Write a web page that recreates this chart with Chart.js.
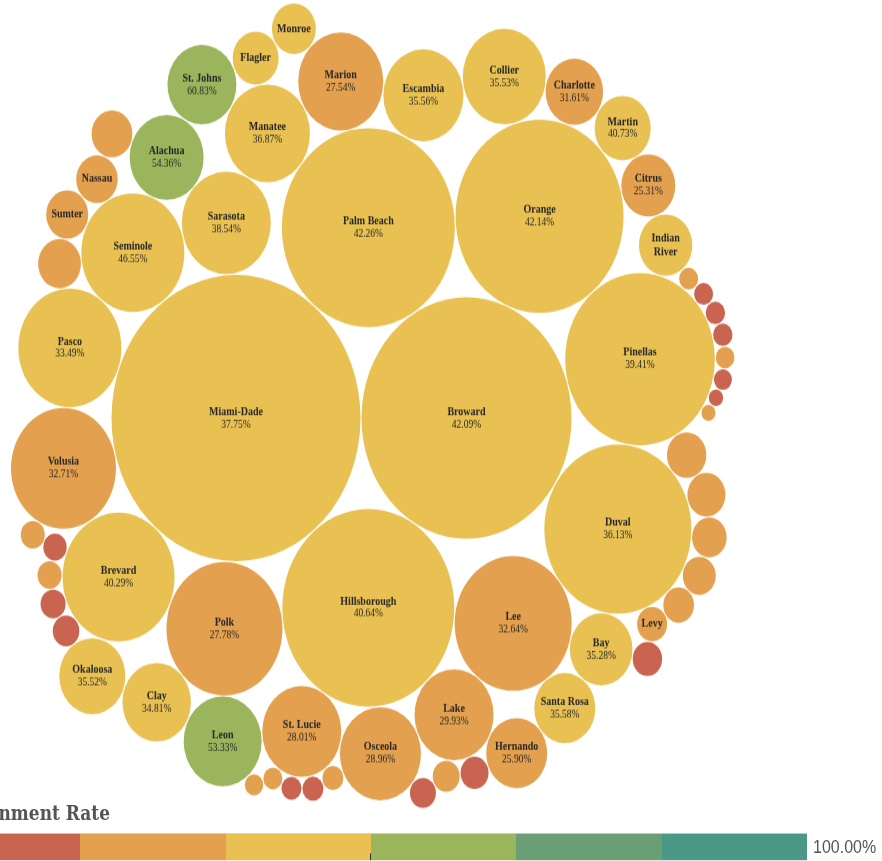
<!DOCTYPE html>
<html>
<head>
<meta charset="utf-8">
<script src="https://cdn.jsdelivr.net/npm/chart.js@4.4.1/dist/chart.umd.min.js"></script>
<style>
  html, body { margin:0; padding:0; background:#fff; overflow:hidden; width:882px; height:861px; }
  #stage { position:absolute; left:0; top:0; width:882px; height:749px; transform:scaleY(1.15); transform-origin:0 0; }
  #chartBox { position:absolute; left:0; top:0; width:882px; height:705px; }
  #title { position:absolute; right:772px; top:697px; font:bold 17px "DejaVu Serif", serif; line-height:20px; color:#555; white-space:nowrap; }
  #bar { position:absolute; left:-65px; top:724px; width:872px; height:23px; display:flex; border-top:1px solid #cfcfcf; }
  #bar div { flex:1; height:100%; }
  #tick { position:absolute; left:370px; top:742px; width:1px; height:6px; background:#333; }
  #maxLbl { position:absolute; left:813px; top:728px; font:16px "Liberation Sans", Arial, sans-serif; line-height:18px; color:#555; white-space:nowrap; }
</style>
</head>
<body>
<div id="stage">
  <div id="chartBox"><canvas id="c" width="882" height="705"></canvas></div>
  <div id="title">Attainment Rate</div>
  <div id="bar"></div>
  <div id="tick"></div>
  <div id="maxLbl">100.00%</div>
</div>
<script>
// ================= DATA =================
// size: estimated adult population (thousands); rate: attainment %
const counties = ["Miami-Dade","Broward","Palm Beach","Hillsborough","Orange","Pinellas","Duval","Lee","Polk","Brevard",
  "Volusia","Pasco","Seminole","Sarasota","Manatee","Marion","Collier","Osceola","Escambia","Lake",
  "St. Lucie","Leon","Alachua","St. Johns","Clay","Okaloosa","Bay","Hernando","Santa Rosa","Charlotte",
  "Martin","Citrus","Indian River","Flagler","Monroe","Sumter","Nassau","Levy"];
const sizes = [2700,1921,1303,1288,1229,975,941,596,586,546,
  480,462,462,345,315,315,300,286,279,272,
  272,265,238,207,204,190,171,162,162,144,
  137,127,124,92,84,77,75,39];
const rates = [37.75,42.09,42.26,40.64,42.14,39.41,36.13,32.64,27.78,40.29,
  32.71,33.49,46.55,38.54,36.87,27.54,35.53,28.96,35.56,29.93,
  28.01,53.33,54.36,60.83,34.81,35.52,35.28,25.90,35.58,31.61,
  40.73,25.31,39.50,37.20,41.00,30.20,31.40,24.60];

// small counties, drawn without a label
const smallCounties = ["Highlands","Putnam","Columbia","Walton","Jackson","Gadsden","Suwannee","Okeechobee","Hendry","Wakulla",
  "DeSoto","Baker","Hardee","Bradford","Washington","Taylor","Holmes","Gulf","Madison","Dixie",
  "Union","Gilchrist","Calhoun","Jefferson","Franklin","Hamilton","Glades","Lafayette","Liberty"];
const smallSizes = [79.8,72.5,67.6,62.9,52.1,47.4,40.8,37.6,34.1,31.7,
  30.8,29.4,27.2,25.1,25.1,23.8,19.2,19.2,17.4,16.4,
  16.4,15.7,15.7,15.7,15.1,14.7,14.1,9.0,8.5];
const smallRates = [24.1,20.3,25.6,31.2,22.4,21.8,18.9,14.2,12.8,26.3,
  13.5,15.1,11.9,17.4,18.2,14.6,13.2,19.5,15.8,10.4,
  12.1,20.6,13.9,24.8,21.3,17.9,11.3,14.0,17.2];

// colour legend: 6 equal steps from 0% to 100%
const binColors = ["#c8644f","#e3a04e","#e8c152","#9bb55d","#6a9e75","#4a9885"];
const binMax = 100;

// ================= PACKING ORDER =================
// each bubble is set tangent to two bubbles already placed: [bubble, first neighbour, second neighbour]
// (the new bubble goes on the outer side, walking clockwise from the first neighbour to the second)
const packOrder = [
  ["Miami-Dade"], ["Broward","Miami-Dade"],
  ["Palm Beach","Miami-Dade","Broward"], ["Hillsborough","Broward","Miami-Dade"],
  ["Orange","Palm Beach","Broward"], ["Pinellas","Orange","Broward"], ["Duval","Pinellas","Broward"],
  ["Lee","Duval","Hillsborough"], ["Polk","Hillsborough","Miami-Dade"], ["Brevard","Polk","Miami-Dade"],
  ["Volusia","Brevard","Miami-Dade"], ["Pasco","Volusia","Miami-Dade"], ["Seminole","Pasco","Miami-Dade"],
  ["Sarasota","Seminole","Miami-Dade"], ["Manatee","Sarasota","Palm Beach"], ["Marion","Manatee","Palm Beach"],
  ["Escambia","Marion","Palm Beach"], ["Collier","Escambia","Orange"], ["Charlotte","Collier","Orange"],
  ["Martin","Charlotte","Orange"], ["Citrus","Martin","Orange"], ["Indian River","Citrus","Pinellas"],
  ["Gilchrist","Indian River","Pinellas"], ["Calhoun","Gilchrist","Pinellas"], ["Dixie","Calhoun","Pinellas"],
  ["Union","Dixie","Pinellas"], ["Franklin","Union","Pinellas"], ["Glades","Franklin","Pinellas"],
  ["Lafayette","Glades","Pinellas"], ["Liberty","Lafayette","Pinellas"],
  ["Columbia","Pinellas","Duval"], ["Walton","Columbia","Duval"], ["Jackson","Walton","Duval"],
  ["Gadsden","Jackson","Duval"], ["Suwannee","Gadsden","Duval"], ["Levy","Suwannee","Duval"],
  ["Bay","Duval","Lee"], ["Okeechobee","Levy","Bay"], ["Santa Rosa","Bay","Lee"],
  ["Lake","Lee","Hillsborough"], ["Hernando","Santa Rosa","Lake"], ["Hendry","Hernando","Lake"],
  ["Wakulla","Hendry","Lake"], ["Osceola","Lake","Hillsborough"], ["Baker","Wakulla","Osceola"],
  ["St. Lucie","Osceola","Hillsborough"], ["Gulf","Osceola","St. Lucie"], ["Holmes","Gulf","St. Lucie"],
  ["Madison","Holmes","St. Lucie"], ["Jefferson","Madison","St. Lucie"], ["Leon","St. Lucie","Polk"],
  ["Hamilton","Jefferson","Leon"], ["Clay","Leon","Polk"], ["Okaloosa","Clay","Brevard"],
  ["DeSoto","Okaloosa","Brevard"], ["Hardee","DeSoto","Brevard"], ["Washington","Hardee","Brevard"],
  ["Taylor","Washington","Brevard"], ["Bradford","Taylor","Volusia"],
  ["Highlands","Pasco","Seminole"], ["Sumter","Highlands","Seminole"], ["Nassau","Sumter","Seminole"],
  ["Alachua","Seminole","Sarasota"], ["Putnam","Nassau","Alachua"], ["St. Johns","Alachua","Manatee"],
  ["Flagler","St. Johns","Manatee"], ["Monroe","Flagler","Marion"]
];

// ================= BUILD =================
const K = 2.396;          // px of radius per sqrt(size)
const PAD = 0.5;          // half-gap between bubbles
const info = {};
counties.forEach((n,i)=>{ info[n] = {name:n, size:sizes[i], rate:rates[i], label:true}; });
smallCounties.forEach((n,i)=>{ info[n] = {name:n, size:smallSizes[i], rate:smallRates[i], label:false}; });

const placed = {};
packOrder.forEach(([name, a, b], i)=>{
  const R = K*Math.sqrt(info[name].size) + PAD;
  if (i === 0) { placed[name] = {x:0, y:0, R}; return; }
  const A = placed[a];
  if (b === undefined) { placed[name] = {x:A.x + A.R + R, y:A.y, R}; return; }
  const B = placed[b];
  const dx = B.x - A.x, dy = B.y - A.y, d = Math.hypot(dx, dy);
  const ra = A.R + R, rb = B.R + R;
  const along = (ra*ra - rb*rb + d*d) / (2*d);
  const h = Math.sqrt(Math.max(0, ra*ra - along*along));
  const ux = dx/d, uy = dy/d, nx = uy, ny = -ux;
  placed[name] = {x: A.x + along*ux + h*nx, y: A.y + along*uy + h*ny, R};
});

const centreX = 236, centreY = 363.5;   // where the first bubble sits
const order = packOrder.map(p=>p[0]);
const points = order.map(n=>({x: centreX + placed[n].x, y: centreY + placed[n].y, r: placed[n].R - PAD}));
const colorOf = v => binColors[Math.min(binColors.length-1, Math.floor(v / (binMax/binColors.length)))];

const bar = document.getElementById('bar');
binColors.forEach(col=>{ const d=document.createElement('div'); d.style.background=col; bar.appendChild(d); });

const labelPlugin = {
  id:'bubbleLabels',
  afterDatasetsDraw(chart) {
    const ctx = chart.ctx, meta = chart.getDatasetMeta(0);
    ctx.save();
    ctx.fillStyle = '#262626'; ctx.textAlign = 'center'; ctx.textBaseline = 'middle';
    meta.data.forEach((el, i)=>{
      const it = info[order[i]], r = points[i].r;
      if (!it.label) return;
      ctx.font = 'bold 10px "Liberation Serif", serif';
      if (r < 26) {
        ctx.fillText(it.name, el.x, el.y);
      } else if (ctx.measureText(it.name).width > 2*r - 6) {
        const parts = it.name.split(' ');
        ctx.fillText(parts[0], el.x, el.y - 6);
        ctx.fillText(parts.slice(1).join(' '), el.x, el.y + 6);
      } else {
        ctx.fillText(it.name, el.x, el.y - 5.5);
        ctx.font = '9.5px "Liberation Serif", serif';
        ctx.fillText(it.rate.toFixed(2) + '%', el.x, el.y + 5.5);
      }
    });
    ctx.restore();
  }
};

new Chart(document.getElementById('c'), {
  type:'bubble',
  data:{ datasets:[{ data: points, backgroundColor: order.map(n=>colorOf(info[n].rate)),
    borderWidth:0, hoverBorderWidth:0, clip:false }] },
  options:{
    responsive:false, animation:false,
    layout:{ padding:0, autoPadding:false },
    plugins:{ legend:{display:false}, tooltip:{enabled:false} },
    scales:{
      x:{ type:'linear', min:0, max:882, display:false },
      y:{ type:'linear', min:0, max:705, reverse:true, display:false }
    }
  },
  plugins:[labelPlugin]
});
</script>
</body>
</html>
